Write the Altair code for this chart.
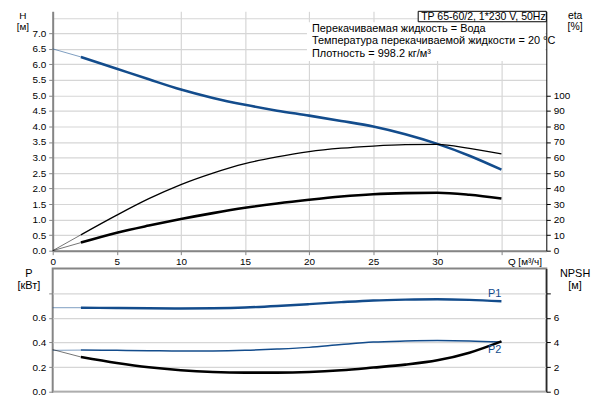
import altair as alt
import pandas as pd

# ---------------- data ----------------
Q = [0, 2.2, 5, 7.5, 10, 12.5, 15, 17.5, 20, 22.5, 25, 27.5, 30, 32.5, 35]
H = [6.50, 6.24, 5.86, 5.52, 5.19, 4.92, 4.70, 4.51, 4.35, 4.18, 4.00, 3.75, 3.44, 3.06, 2.61]
ETA = [0, 10.2, 22.9, 33.5, 42.6, 50.0, 56.1, 60.4, 63.8, 66.0, 67.4, 68.3, 68.5, 65.9, 62.3]
ETA_TOT = [0, 5.2, 11.6, 16.2, 20.4, 24.2, 27.6, 30.4, 32.8, 34.9, 36.4, 37.1, 37.3, 36.0, 33.6]
P1 = [0.682, 0.682, 0.680, 0.678, 0.676, 0.678, 0.684, 0.696, 0.711, 0.727, 0.741, 0.748, 0.751, 0.746, 0.735]
P2 = [0.336, 0.338, 0.336, 0.333, 0.330, 0.331, 0.336, 0.346, 0.360, 0.383, 0.403, 0.411, 0.415, 0.412, 0.403]
NPSH = [3.42, 2.82, 2.33, 1.98, 1.74, 1.60, 1.55, 1.55, 1.60, 1.74, 1.96, 2.20, 2.55, 3.17, 4.09]

X_TICKS = [0, 5, 10, 15, 20, 25, 30, 35]
H_TICKS = [0, 0.5, 1.0, 1.5, 2.0, 2.5, 3.0, 3.5, 4.0, 4.5, 5.0, 5.5, 6.0, 6.5, 7.0, 7.5]
ETA_TICKS = [0, 10, 20, 30, 40, 50, 60, 70, 80, 90, 100]
P_TICKS = [0, 0.2, 0.4, 0.6, 0.8]
NPSH_TICKS = [0, 2, 4, 6, 8]

MODEL = "TP 65-60/2, 1*230 V, 50Hz"
INFO_LINES = [
    "Перекачиваемая жидкость = Вода",
    "Температура перекачиваемой жидкости = 20 °C",
    "Плотность = 998.2 кг/м³",
]
Q_LABEL = "Q [м³/ч]"
H_TITLE = ["H", "[м]"]
ETA_TITLE = ["eta", "[%]"]
P_TITLE = ["P", "[кВт]"]
NPSH_TITLE = ["NPSH", "[м]"]
CURVE_LABELS = ["P1", "P2"]
CURVE_LABEL_Q = [35, 35]
CURVE_LABEL_P = [0.79, 0.335]

# ---------------- styling ----------------
BLUE = "#134c8c"
BLACK = "#000000"
GRID = "#d6d6d6"
FRAME = "#858585"
FONT = "Liberation Sans"
W = 497
TOP_H = 241
BOT_H = 124
H_MAX = 7.71
ETA_MAX = H_MAX * 20
Q_MAX = 38.5
START = 2.2

df = pd.DataFrame({"Q": Q, "H": H, "eta": ETA, "eta_tot": ETA_TOT,
                   "P1": P1, "P2": P2, "NPSH": NPSH})
lab = pd.DataFrame({"Q": CURVE_LABEL_Q, "P": CURVE_LABEL_P, "t": CURVE_LABELS})
one = pd.DataFrame({"a": [0]})

xscale = alt.Scale(domain=[0, Q_MAX], nice=False, zero=False)
x_top = alt.X("Q:Q", scale=xscale, axis=alt.Axis(
    values=X_TICKS, title=None, grid=True, gridColor=GRID, gridWidth=1.2,
    domainColor=FRAME, domainWidth=2, tickColor=FRAME, tickSize=4,
    labelExpr=f"datum.value == 35 ? '{Q_LABEL}' : datum.label",
    labelAlign={"condition": {"test": "datum.value == 35", "value": "left"}, "value": "center"},
    labelOffset={"condition": {"test": "datum.value == 35", "value": 6}, "value": 0},
    labelPadding=2, labelFlush=False, labelOverlap=False))
x_bot = alt.X("Q:Q", scale=xscale, axis=alt.Axis(
    values=X_TICKS, title=None, grid=True, gridColor=GRID, gridWidth=1.2,
    labels=False, ticks=False, domain=False))

h_scale = alt.Scale(domain=[0, H_MAX], nice=False, zero=False)
e_scale = alt.Scale(domain=[0, ETA_MAX], nice=False, zero=False)
p_scale = alt.Scale(domain=[0, 1.0], nice=False, zero=False)
n_scale = alt.Scale(domain=[0, 10], nice=False, zero=False)

h_axis = alt.Axis(values=H_TICKS, title=None, grid=True, gridColor=GRID, gridWidth=1.2,
                  domainColor=FRAME, domainWidth=2, tickColor=FRAME, tickSize=4,
                  tickOpacity={"condition": {"test": "datum.value > 7.2", "value": 0}, "value": 1},
                  labelExpr="datum.value > 7.2 ? '' : format(datum.value, '.1f')",
                  labelPadding=3, labelOverlap=False)
e_axis = alt.Axis(values=ETA_TICKS, title=None, orient="right", grid=False,
                  domainColor=BLACK, domainWidth=1, tickColor=BLACK, tickSize=4,
                  labelPadding=3, labelOverlap=False)
p_axis = alt.Axis(values=P_TICKS, title=None, grid=True, gridColor=GRID, gridWidth=1.2,
                  domain=False, tickColor=FRAME, tickSize=4,
                  labelExpr="datum.value > 0.7 ? '' : format(datum.value, '.1f')",
                  labelPadding=3, labelOverlap=False)
n_axis = alt.Axis(values=NPSH_TICKS, title=None, orient="right", grid=False,
                  domainColor=BLACK, domainWidth=1, tickColor=BLACK, tickSize=4,
                  labelExpr="datum.value > 7 ? '' : datum.label",
                  labelPadding=3, labelOverlap=False)

base = alt.Chart(df)


def curve(field, scale, axis, color, width, x_enc):
    thin = base.transform_filter(f"datum.Q <= {START}").mark_line(
        color=color, strokeWidth=1, opacity=0.55, interpolate="monotone").encode(
        x=x_enc, y=alt.Y(f"{field}:Q", scale=scale, axis=axis))
    thick = base.transform_filter(f"datum.Q >= {START}").mark_line(
        color=color, strokeWidth=width, interpolate="monotone").encode(
        x=x_enc, y=alt.Y(f"{field}:Q", scale=scale, axis=None))
    return [thin, thick]


def text_block(lines, xpx, ypx, align="center", color=BLACK, size=11, lh=12):
    return alt.Chart(one).mark_text(text=lines, align=align, baseline="top", font=FONT,
                                    fontSize=size, lineHeight=lh, color=color).encode(
        x=alt.value(xpx), y=alt.value(ypx))


# bounds anchor so that the plot origin lands at page (52, 9)
anchor = alt.Chart(one).mark_rect(color="white").encode(
    x=alt.value(-44), x2=alt.value(-43), y=alt.value(-1), y2=alt.value(0))

info_bg = alt.Chart(one).mark_rect(color="white").encode(
    x=alt.value(256), x2=alt.value(496), y=alt.value(11), y2=alt.value(50))
model_box = alt.Chart(one).mark_rect(fill="white", stroke=BLACK, strokeWidth=1).encode(
    x=alt.value(368), x2=alt.value(497), y=alt.value(0), y2=alt.value(10.5))
model_txt = alt.Chart(one).mark_text(text=MODEL, align="left", baseline="middle", font=FONT,
                                     fontSize=10.6, color=BLACK).encode(
    x=alt.value(371), y=alt.value(5.5))

top_layers = (
    [anchor]
    + curve("H", h_scale, h_axis, BLUE, 2.6, x_top)
    + curve("eta", e_scale, e_axis, BLACK, 1.3, x_top)
    + curve("eta_tot", e_scale, None, BLACK, 2.6, x_top)
    + [info_bg, model_box, model_txt,
       text_block(INFO_LINES, 261, 11.5, align="left", lh=12.5),
       text_block(H_TITLE, -30, 0, size=10, lh=10.5),
       text_block(ETA_TITLE, 526, 0, size=10.5, lh=10.5)]
)
top = alt.layer(*top_layers).resolve_scale(y="independent").properties(
    width=W, height=TOP_H, view=alt.ViewBackground(stroke="transparent"))

labels = alt.Chart(lab).mark_text(align="right", baseline="middle", font=FONT,
                                  fontSize=11, color=BLUE).encode(
    x=alt.X("Q:Q", scale=xscale, axis=None),
    y=alt.Y("P:Q", scale=p_scale, axis=None), text="t:N")

bot_layers = (
    curve("P1", p_scale, p_axis, BLUE, 2.4, x_bot)
    + curve("P2", p_scale, None, BLUE, 1.5, x_bot)
    + curve("NPSH", n_scale, n_axis, BLACK, 2.6, x_bot)
    + [labels,
       text_block(P_TITLE, -24, 0, lh=12),
       text_block(NPSH_TITLE, 526, 0, lh=12)]
)
bottom = alt.layer(*bot_layers).resolve_scale(y="independent").properties(
    width=W, height=BOT_H, view=alt.ViewBackground(stroke=FRAME, strokeWidth=2))

chart = alt.vconcat(top, bottom, spacing=18, bounds="flush", padding=0).configure_view(
    stroke="transparent").configure_axis(
    labelFont=FONT, labelFontSize=11, labelColor="#111111").configure(background="white")

chart.save("out.html", embed_options={"renderer": "svg", "actions": False})
